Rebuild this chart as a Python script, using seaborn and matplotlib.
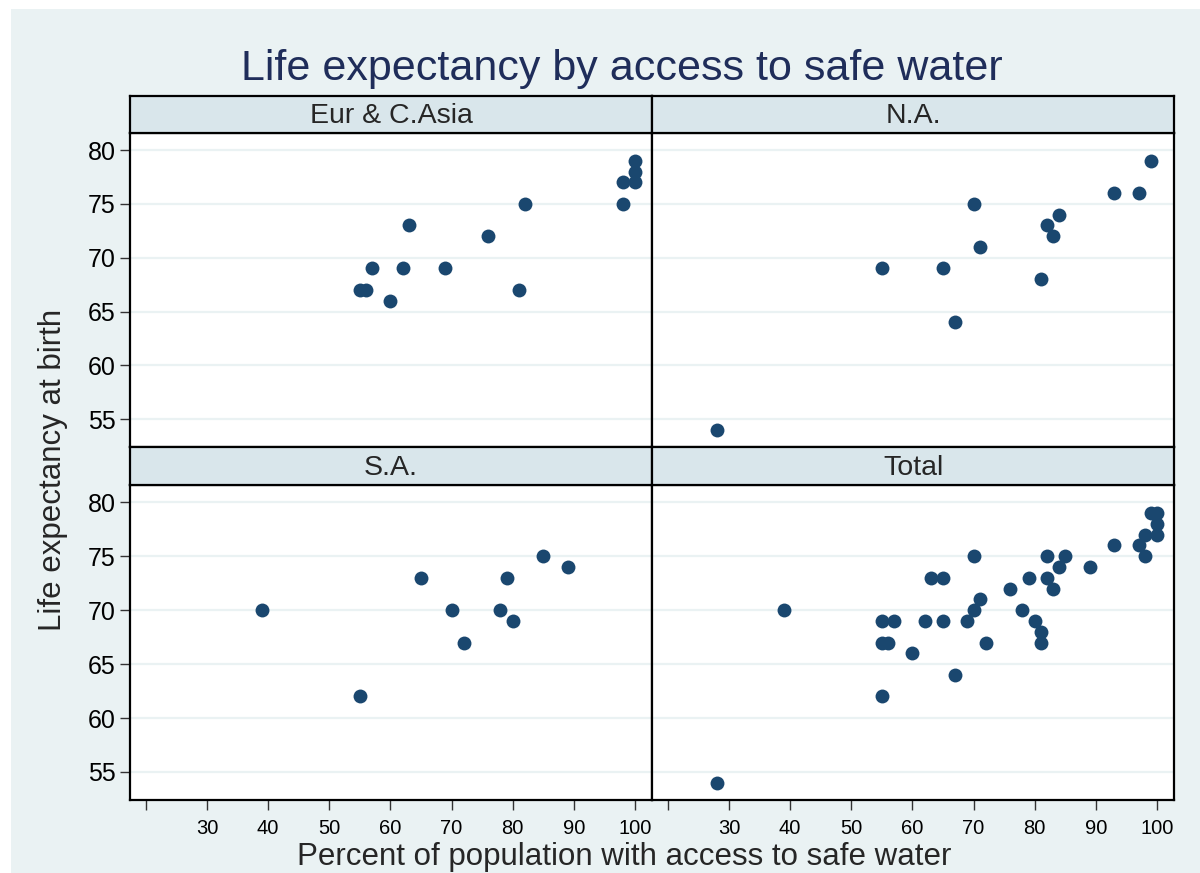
import matplotlib
matplotlib.use("Agg")
import matplotlib.pyplot as plt
from matplotlib.patches import Rectangle
import seaborn as sns
import pandas as pd

# ---- data ----
regions = ["Eur & C.Asia", "N.A.", "S.A."]
eur_water = [100, 100, 100, 98, 98, 82, 63, 76, 57, 62, 69, 55, 56, 60, 81]
eur_life = [79, 78, 77, 77, 75, 75, 73, 72, 69, 69, 69, 67, 67, 66, 67]
na_water = [99, 93, 97, 70, 84, 82, 83, 71, 55, 65, 81, 67, 28]
na_life = [79, 76, 76, 75, 74, 73, 72, 71, 69, 69, 68, 64, 54]
sa_water = [39, 55, 65, 70, 72, 78, 79, 80, 85, 89]
sa_life = [70, 62, 73, 70, 67, 70, 73, 69, 75, 74]

x_ticks = [20, 30, 40, 50, 60, 70, 80, 90, 100]
x_ticklabels = ["", "30", "40", "50", "60", "70", "80", "90", "100"]
y_ticks = [55, 60, 65, 70, 75, 80]

title = "Life expectancy by access to safe water"
xlabel = "Percent of population with access to safe water"
ylabel = "Life expectancy at birth"

df = pd.concat([
    pd.DataFrame({"water": eur_water, "life": eur_life, "region": regions[0]}),
    pd.DataFrame({"water": na_water, "life": na_life, "region": regions[1]}),
    pd.DataFrame({"water": sa_water, "life": sa_life, "region": regions[2]}),
], ignore_index=True)
panels = [(regions[0], df[df.region == regions[0]]),
          (regions[1], df[df.region == regions[1]]),
          (regions[2], df[df.region == regions[2]]),
          ("Total", df)]

# ---- style ----
sns.set_style("white")
plt.rcParams["font.family"] = ["Liberation Sans", "DejaVu Sans"]

BG = "#EAF2F3"
STRIP = "#D9E6EB"
MARK = "#1A476F"
TITLE_C = "#1F2D5A"

W, H = 1200, 873
fig = plt.figure(figsize=(W / 100, H / 100), dpi=100, facecolor="white")
fig.patches.append(Rectangle((11 / W, 0), 1 - 11 / W, 1 - 9 / H,
                             transform=fig.transFigure, facecolor=BG,
                             edgecolor="none", zorder=-10))

cols = [(130, 652), (652, 1174)]
rows = [(96, 133, 447), (447, 485, 800)]  # strip top, axes top, axes bottom

xlim = (17.4, 102.8)
ylim = (52.4, 81.6)

for i, (name, sub) in enumerate(panels):
    r, c = divmod(i, 2)
    x0, x1 = cols[c]
    st, at, ab = rows[r]
    ax = fig.add_axes([x0 / W, 1 - ab / H, (x1 - x0) / W, (ab - at) / H])
    ax.set_facecolor("white")
    for y in y_ticks:
        ax.axhline(y, color=BG, lw=1.6, zorder=0)
    sns.scatterplot(data=sub, x="water", y="life", ax=ax, color=MARK,
                    s=100, linewidth=0, zorder=3, legend=False)
    ax.set_xlim(*xlim)
    ax.set_ylim(*ylim)
    ax.set_xlabel("")
    ax.set_ylabel("")
    for sp in ax.spines.values():
        sp.set_color("black")
        sp.set_linewidth(1.6)
    ax.tick_params(axis="y", left=True, length=7.5, width=1.0, color="#333333",
                   labelsize=18, pad=3, labelcolor="black")
    ax.tick_params(axis="x", bottom=True, length=7.5, width=1.0, color="#333333",
                   labelsize=14.5, pad=6, labelcolor="black")
    if c == 0:
        ax.set_yticks(y_ticks)
        ax.set_yticklabels([str(v) for v in y_ticks])
    else:
        ax.set_yticks([])
    if r == 1:
        ax.set_xticks(x_ticks)
        ax.set_xticklabels(x_ticklabels)
    else:
        ax.set_xticks([])

    sax = fig.add_axes([x0 / W, 1 - at / H, (x1 - x0) / W, (at - st) / H])
    sax.set_facecolor(STRIP)
    sax.set_xticks([])
    sax.set_yticks([])
    for sp in sax.spines.values():
        sp.set_color("black")
        sp.set_linewidth(1.6)
    sax.text(0.5, 0.45, name, ha="center", va="center", fontsize=20.5,
             transform=sax.transAxes)

fig.text(622 / W, 1 - 80 / H, title, ha="center", va="baseline",
         fontsize=31, color=TITLE_C)
fig.text(624 / W, 1 - 865 / H, xlabel, ha="center", va="baseline", fontsize=22.5)
fig.text(53 / W, 1 - 470 / H, ylabel, ha="center", va="center", fontsize=22.5,
         rotation=90)

fig.savefig("out.png", dpi=100, facecolor=fig.get_facecolor())
